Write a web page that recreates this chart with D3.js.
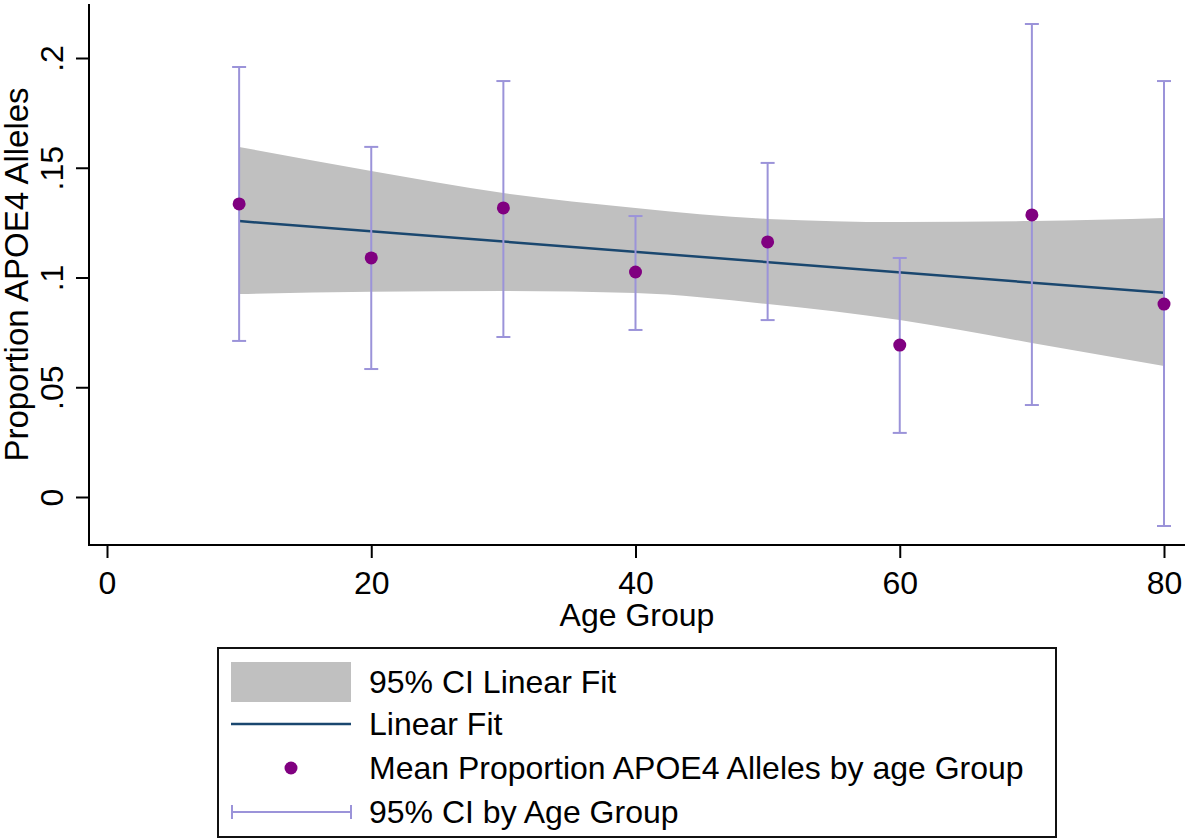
<!DOCTYPE html>
<html>
<head>
<meta charset="utf-8">
<script src="https://cdn.jsdelivr.net/npm/d3@7"></script>
<style>
  body { margin: 0; background: #fff; }
  svg { display: block; font-family: "Liberation Sans", Arial, sans-serif; }
</style>
</head>
<body>
<svg id="chart" width="1185" height="839"></svg>
<script>
// age groups and group means with 95% CI
const ages = [10, 20, 30, 40, 50, 60, 70, 80];
const means = [0.1335, 0.1089, 0.1317, 0.1025, 0.1162, 0.0692, 0.1285, 0.0879];
const ciLow = [0.0711, 0.0583, 0.0729, 0.0761, 0.0806, 0.0292, 0.0419, -0.0132];
const ciHigh = [0.1959, 0.1595, 0.1895, 0.1280, 0.1522, 0.1089, 0.2155, 0.1895];

// linear fit and its 95% CI band
const fitX = [10, 80];
const fitY = [0.1257, 0.0930];
const bandUpper = [0.1595, 0.1485, 0.1385, 0.1317, 0.1267, 0.1253, 0.1257, 0.1271];
const bandLower = [0.0925, 0.0935, 0.0938, 0.0929, 0.0879, 0.0806, 0.0702, 0.0597];

const xTicks = [0, 20, 40, 60, 80];
const yTicks = [0, 0.05, 0.1, 0.15, 0.2];
const yTickLabels = ["0", ".05", ".1", ".15", ".2"];

const legendLabels = [
  "95% CI Linear Fit",
  "Linear Fit",
  "Mean Proportion APOE4 Alleles by age Group",
  "95% CI by Age Group",
];

const grey = "#c0c0c0";
const navy = "#1a476f";
const purple = "#800080";
const lav = "#9b93d9";
const fs = 32;

const svg = d3.select("#chart");

const plot = { left: 89, right: 1185, top: 4, bottom: 545 };

const x = d3.scaleLinear().domain([0, 80]).range([107, 1164]);
const y = d3.scaleLinear().domain([0, 0.2]).range([497, 58]);

// band
const band = ages.map((a, i) => ({ a, lo: bandLower[i], hi: bandUpper[i] }));
svg.append("path")
  .datum(band)
  .attr("fill", grey)
  .attr("d", d3.area()
    .curve(d3.curveMonotoneX)
    .x((d) => x(d.a))
    .y0((d) => y(d.lo))
    .y1((d) => y(d.hi)));

// fit line
svg.append("path")
  .datum(fitX.map((v, i) => [v, fitY[i]]))
  .attr("fill", "none")
  .attr("stroke", navy)
  .attr("stroke-width", 2.5)
  .attr("d", d3.line().x((d) => x(d[0])).y((d) => y(d[1])));

// error bars
const bars = svg.append("g")
  .attr("stroke", lav)
  .attr("stroke-width", 2)
  .selectAll("g")
  .data(ages)
  .join("g");

bars.append("line")
  .attr("x1", (d) => x(d)).attr("x2", (d) => x(d))
  .attr("y1", (d, i) => y(ciLow[i])).attr("y2", (d, i) => y(ciHigh[i]));
bars.append("line")
  .attr("x1", (d) => x(d) - 7).attr("x2", (d) => x(d) + 7)
  .attr("y1", (d, i) => y(ciLow[i])).attr("y2", (d, i) => y(ciLow[i]));
bars.append("line")
  .attr("x1", (d) => x(d) - 7).attr("x2", (d) => x(d) + 7)
  .attr("y1", (d, i) => y(ciHigh[i])).attr("y2", (d, i) => y(ciHigh[i]));

// means
svg.append("g")
  .selectAll("circle")
  .data(ages)
  .join("circle")
  .attr("cx", (d) => x(d))
  .attr("cy", (d, i) => y(means[i]))
  .attr("r", 6.5)
  .attr("fill", purple);

// axes
const xAxis = svg.append("g")
  .attr("transform", `translate(0, ${plot.bottom + 1})`)
  .call(d3.axisBottom(x).tickValues(xTicks).tickSize(12));
xAxis.select(".domain").remove();
xAxis.selectAll("line").attr("stroke", "#000").attr("stroke-width", 2);
xAxis.selectAll("text").attr("font-size", fs).attr("fill", "#000")
  .attr("font-family", "Liberation Sans, Arial, sans-serif")
  .attr("dy", null)
  .attr("y", 48);

const yAxis = svg.append("g")
  .attr("transform", `translate(${plot.left}, 0)`)
  .call(d3.axisLeft(y).tickValues(yTicks).tickSize(13)
    .tickFormat((d, i) => yTickLabels[i]));
yAxis.select(".domain").remove();
yAxis.selectAll("line").attr("stroke", "#000").attr("stroke-width", 2);
yAxis.selectAll("text")
  .attr("font-size", fs).attr("fill", "#000")
  .attr("font-family", "Liberation Sans, Arial, sans-serif")
  .attr("text-anchor", "middle")
  .attr("dy", null)
  .attr("x", null)
  .attr("transform", "translate(-26, 0) rotate(-90)");

svg.append("path")
  .attr("d", `M${plot.left},${plot.top}V${plot.bottom}H${plot.right}`)
  .attr("fill", "none")
  .attr("stroke", "#000")
  .attr("stroke-width", 2);

// axis titles
svg.append("text")
  .attr("x", (plot.left + plot.right) / 2)
  .attr("y", 626)
  .attr("text-anchor", "middle")
  .attr("font-size", fs)
  .text("Age Group");

svg.append("text")
  .attr("transform", `translate(28, ${(plot.top + plot.bottom) / 2}) rotate(-90)`)
  .attr("text-anchor", "middle")
  .attr("font-size", 33)
  .text("Proportion APOE4 Alleles");

// legend
const lg = svg.append("g");
lg.append("rect")
  .attr("x", 218).attr("y", 648)
  .attr("width", 838).attr("height", 189)
  .attr("fill", "#fff")
  .attr("stroke", "#111")
  .attr("stroke-width", 2);

const rowY = [682, 724, 768, 812];
lg.append("rect")
  .attr("x", 231).attr("y", rowY[0] - 20)
  .attr("width", 120).attr("height", 40)
  .attr("fill", grey);
lg.append("line")
  .attr("x1", 231).attr("x2", 351)
  .attr("y1", rowY[1]).attr("y2", rowY[1])
  .attr("stroke", navy).attr("stroke-width", 2.5);
lg.append("circle")
  .attr("cx", 291).attr("cy", rowY[2]).attr("r", 6.5)
  .attr("fill", purple);
lg.append("path")
  .attr("d", `M232,${rowY[3] - 7}V${rowY[3] + 7}M232,${rowY[3]}H351M351,${rowY[3] - 7}V${rowY[3] + 7}`)
  .attr("fill", "none")
  .attr("stroke", lav).attr("stroke-width", 2);

lg.selectAll("text.lab")
  .data(legendLabels)
  .join("text")
  .attr("class", "lab")
  .attr("x", 369)
  .attr("y", (d, i) => rowY[i] + 11)
  .attr("font-size", fs)
  .text((d) => d);
</script>
</body>
</html>
